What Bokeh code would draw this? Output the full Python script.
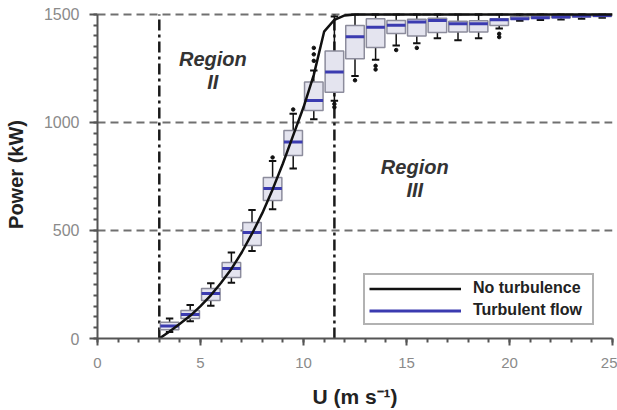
from bokeh.plotting import figure
from bokeh.models import (Range1d, Label, Legend, LegendItem, FixedTicker, ColumnDataSource)
from bokeh.embed import file_html
from bokeh.resources import INLINE

# ---------------- data ----------------
curve_u = [3, 3.5, 4, 4.5, 5, 5.5, 6, 6.5, 7, 7.5, 8, 8.5, 9, 9.5, 10, 10.5, 11, 11.5, 12, 12.5, 25]
curve_p = [0, 32, 68, 105, 150, 200, 258, 322, 398, 485, 580, 690, 810, 940, 1070, 1220, 1420, 1475, 1495, 1500, 1500]

box_u = [3.5, 4.5, 5.5, 6.5, 7.5, 8.5, 9.5, 10.5, 11.5, 12.5, 13.5, 14.5, 15.5, 16.5,
         17.5, 18.5, 19.5, 20.5, 21.5, 22.5, 23.5, 24.5]
box_q1 = [40, 93, 176, 282, 430, 639, 847, 1055, 1140, 1295, 1347, 1412, 1400, 1416,
          1418, 1418, 1449, 1478, 1482, 1485, 1488, 1490]
box_med = [58, 111, 208, 324, 491, 694, 909, 1102, 1233, 1396, 1441, 1450, 1465, 1472,
           1457, 1457, 1475, 1480, 1485, 1488, 1492, 1495]
box_q3 = [75, 130, 231, 352, 537, 745, 963, 1187, 1330, 1449, 1480, 1472, 1478, 1482,
          1468, 1470, 1480, 1490, 1493, 1495, 1497, 1498]
whisk_lo = [30, 80, 152, 258, 405, 598, 787, 1015, 1100, 1215, 1290, 1356, 1366, 1389,
            1380, 1389, 1435, 1470, 1474, 1476, 1480, 1484]
whisk_hi = [92, 155, 256, 398, 595, 822, 1040, 1240, 1490, 1500, 1500, 1500, 1500, 1500,
            1500, 1500, 1500, 1500, 1500, 1500, 1500, 1500]

out_u = [10.5, 10.5, 10.5, 11.5, 11.5, 12.5, 13.5, 13.5, 14.5, 15.5, 19.5, 19.5, 9.5, 8.5]
out_p = [1285, 1315, 1345, 1085, 1070, 1195, 1262, 1245, 1335, 1345, 1410, 1395, 1060, 838]

bound_u = [3, 11.5]
grid_p = [500, 1000, 1500]

region_text = ["Region", "II", "Region", "III"]

FONT = "Liberation Sans"

# ---------------- figure ----------------
p = figure(width=617, height=410, output_backend="svg", toolbar_location=None,
           x_range=Range1d(0, 25), y_range=Range1d(0, 1518),
           min_border_left=97, min_border_right=5, min_border_top=10, min_border_bottom=72)
p.outline_line_color = None
p.background_fill_color = "white"
p.border_fill_color = "white"

# grid
p.xgrid.visible = False
p.ygrid.ticker = FixedTicker(ticks=grid_p)
p.ygrid.grid_line_color = "#707070"
p.ygrid.grid_line_width = 2
p.ygrid.grid_line_dash = "8 5"

# axes
for ax in (p.xaxis[0], p.yaxis[0]):
    ax.axis_line_color = "#555555"
    ax.axis_line_width = 2
    ax.major_tick_line_color = "#555555"
    ax.minor_tick_line_color = "#555555"
    ax.major_tick_line_width = 2
    ax.minor_tick_line_width = 2
    ax.major_tick_in = 0
    ax.minor_tick_in = 0
    ax.major_label_text_font = FONT
    ax.major_label_text_color = "#8a8a8a"
    ax.axis_label_text_font = FONT
    ax.axis_label_text_font_style = "bold"
    ax.axis_label_text_color = "#222222"

p.xaxis[0].ticker = FixedTicker(ticks=[0, 5, 10, 15, 20, 25], minor_ticks=list(range(0, 26)))
p.yaxis[0].ticker = FixedTicker(ticks=[0, 500, 1000, 1500], minor_ticks=list(range(0, 1501, 50)))
p.xaxis.major_label_text_font_size = "15px"
p.yaxis.major_label_text_font_size = "16px"
p.xaxis.major_tick_out = 7
p.xaxis.minor_tick_out = 4
p.yaxis.major_tick_out = 8
p.yaxis.minor_tick_out = 4
p.yaxis.bounds = (0, 1500)
p.xaxis.major_label_standoff = 12
p.yaxis.major_label_standoff = 10
p.xaxis.axis_label = "U (m s\u207b\u00b9)"
p.yaxis.axis_label = "Power (kW)"
p.xaxis.axis_label_text_font_size = "21px"
p.yaxis.axis_label_text_font_size = "20px"
p.xaxis.axis_label_standoff = 14
p.yaxis.axis_label_standoff = 14

# region boundaries
p.segment(x0=bound_u, y0=[0, 0], x1=bound_u, y1=[1500, 1500],
          line_color="#1a1a1a", line_width=2.5, line_dash="11 4 3 4")

# boxes
bw = 0.9
cw = 0.36
src = ColumnDataSource(dict(u=box_u, q1=box_q1, med=box_med, q3=box_q3, lo=whisk_lo, hi=whisk_hi,
                            l=[u - bw / 2 for u in box_u], r=[u + bw / 2 for u in box_u],
                            cl=[u - cw / 2 for u in box_u], cr=[u + cw / 2 for u in box_u]))
p.segment(x0="u", y0="q3", x1="u", y1="hi", source=src, line_color="#111111", line_width=1.5)
p.segment(x0="u", y0="q1", x1="u", y1="lo", source=src, line_color="#111111", line_width=1.5)
p.segment(x0="cl", y0="hi", x1="cr", y1="hi", source=src, line_color="#111111", line_width=2)
p.segment(x0="cl", y0="lo", x1="cr", y1="lo", source=src, line_color="#111111", line_width=2)
p.quad(left="l", right="r", bottom="q1", top="q3", source=src,
       fill_color="#e4e4ef", line_color="#8c8c9c", line_width=1.5)
med_r = p.segment(x0="l", y0="med", x1="r", y1="med", source=src,
                  line_color="#3b3bb0", line_width=3)
p.scatter(x=out_u, y=out_p, size=3.5, color="#111111")

# no-turbulence curve
curve_r = p.line(curve_u, curve_p, line_color="#111111", line_width=2.5)

# region labels
lab_kw = dict(text_font=FONT, text_font_style="bold italic", text_font_size="20px",
              text_color="#333333", text_align="center", text_baseline="top")
p.add_layout(Label(x=5.6, y=1345, text=region_text[0], **lab_kw))
p.add_layout(Label(x=5.6, y=1240, text=region_text[1], **lab_kw))
p.add_layout(Label(x=15.4, y=845, text=region_text[2], **lab_kw))
p.add_layout(Label(x=15.4, y=740, text=region_text[3], **lab_kw))

# legend
legend = Legend(items=[LegendItem(label="No turbulence", renderers=[curve_r]),
                       LegendItem(label="Turbulent flow", renderers=[med_r])],
                location=(266, 13), orientation="vertical")
legend.label_text_font = FONT
legend.label_text_font_size = "16px"
legend.label_text_font_style = "bold"
legend.label_text_color = "#222222"
legend.border_line_color = "#666666"
legend.border_line_width = 2
legend.padding = 4
legend.margin = 0
legend.glyph_width = 92
legend.glyph_height = 17
legend.label_height = 17
legend.label_standoff = 12
legend.label_width = 115
legend.spacing = 4
legend.background_fill_alpha = 1
p.add_layout(legend)

open("out.html", "w").write(file_html(p, INLINE))
